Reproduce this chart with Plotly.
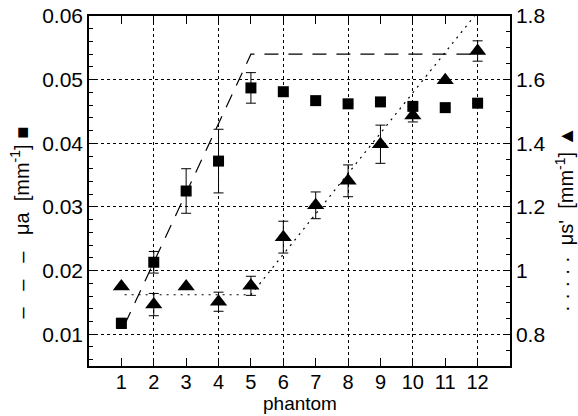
import plotly.graph_objects as go

phantom = list(range(1, 13))
mua = [0.0117, 0.0213, 0.0325, 0.0372, 0.0487, 0.0481, 0.0467, 0.0462, 0.0465, 0.0458, 0.0456, 0.0463]
mua_err = [0.0008, 0.0017, 0.0035, 0.0050, 0.0024, 0.0003, 0, 0, 0, 0, 0, 0]
mus = [0.95, 0.893, 0.95, 0.902, 0.952, 1.105, 1.205, 1.282, 1.397, 1.487, 1.598, 1.69]
mus_err = [0, 0.035, 0, 0.03, 0.03, 0.05, 0.042, 0.05, 0.06, 0.02, 0, 0.032]

model_x = [1.1, 5, 12]
mua_model = [0.0115, 0.0540, 0.0540]
mus_model_x = [1.1, 5, 11.9]
mus_model = [0.924, 0.924, 1.80]

xticks = list(range(1, 13))
xgrid = [2, 4, 6, 8, 10, 12]

FONT = "Liberation Sans, Arial, sans-serif"

fig = go.Figure()
fig.add_trace(go.Scatter(x=model_x, y=mua_model, mode="lines",
                         line=dict(color="black", width=1.2, dash="14px,10px"),
                         hoverinfo="skip", showlegend=False))
fig.add_trace(go.Scatter(x=mus_model_x, y=mus_model, mode="lines", yaxis="y2",
                         line=dict(color="black", width=1.2, dash="2px,5px"),
                         hoverinfo="skip", showlegend=False))
fig.add_trace(go.Scatter(x=phantom, y=mua, mode="markers",
                         marker=dict(symbol="square", size=11, color="black"),
                         error_y=dict(type="data", array=mua_err, color="black", thickness=1, width=5),
                         showlegend=False))
fig.add_trace(go.Scatter(x=phantom, y=mus, mode="markers", yaxis="y2",
                         marker=dict(symbol="triangle-up", size=15, color="black"),
                         error_y=dict(type="data", array=mus_err, color="black", thickness=1, width=5),
                         showlegend=False))
# dummy trace for grid-only x axis
fig.add_trace(go.Scatter(x=[None], y=[None], xaxis="x2", showlegend=False, hoverinfo="skip"))

fig.update_layout(
    width=578, height=416,
    margin=dict(l=89, r=68, t=16, b=50, autoexpand=False),
    paper_bgcolor="white", plot_bgcolor="white",
    font=dict(family=FONT, size=21, color="black"),
    xaxis=dict(range=[0, 13], tickvals=xticks, ticks="inside", ticklen=8, tickcolor="black",
               automargin=False, tickfont=dict(size=20), ticklabelstandoff=-3,
               showgrid=False, zeroline=False, showline=True, linecolor="black", linewidth=1.5,
               mirror="ticks"),
    xaxis2=dict(range=[0, 13], overlaying="x", anchor="y", tickvals=xgrid, showticklabels=False,
                automargin=False,
                ticks="", showgrid=True, gridcolor="black", griddash="dot", gridwidth=1,
                zeroline=False, showline=False),
    yaxis=dict(range=[0.005, 0.06], tickvals=[0.01, 0.02, 0.03, 0.04, 0.05, 0.06],
               ticktext=["0.01", "0.02", "0.03", "0.04", "0.05", "0.06"],
               automargin=False, ticklabeloverflow="allow",
               ticks="inside", ticklen=6, tickcolor="black",
               showgrid=True, gridcolor="black", griddash="dot", gridwidth=1,
               zeroline=False, showline=True, linecolor="black", linewidth=1.5,
               minor=dict(dtick=0.002, tick0=0, ticks="inside", ticklen=4, tickcolor="black")),
    yaxis2=dict(range=[0.7, 1.8], overlaying="y", side="right", anchor="x",
                tickvals=[0.8, 1.0, 1.2, 1.4, 1.6, 1.8], ticktext=["0.8", "1", "1.2", "1.4", "1.6", "1.8"],
                automargin=False, ticklabeloverflow="allow",
                ticks="inside", ticklen=6, tickcolor="black", showgrid=False, zeroline=False,
                showline=True, linecolor="black", linewidth=1.5,
                minor=dict(dtick=0.05, tick0=0, ticks="inside", ticklen=4, tickcolor="black")),
    annotations=[
        dict(text="phantom", xref="paper", yref="paper", x=0.5, y=-50 / 350,
             xanchor="center", yanchor="bottom", showarrow=False, font=dict(size=19)),
        dict(text="\u2013   \u2013   \u2013   \u03bca  [mm<sup>-1</sup>] \u25a0", xref="paper", yref="paper",
             x=-0.164, y=0.41, textangle=-90, showarrow=False, font=dict(size=20),
             xanchor="center", yanchor="middle"),
        dict(text="\u00b7 \u00b7 \u00b7 \u00b7 \u00b7  \u03bcs'  [mm<sup>-1</sup>] \u25b2", xref="paper", yref="paper",
             x=1.128, y=0.42, textangle=-90, showarrow=False, font=dict(size=20),
             xanchor="center", yanchor="middle"),
    ],
)

fig.write_html("out.html", config={"displayModeBar": False},
               post_script="document.body.style.margin='0';document.body.style.overflow='hidden';")
